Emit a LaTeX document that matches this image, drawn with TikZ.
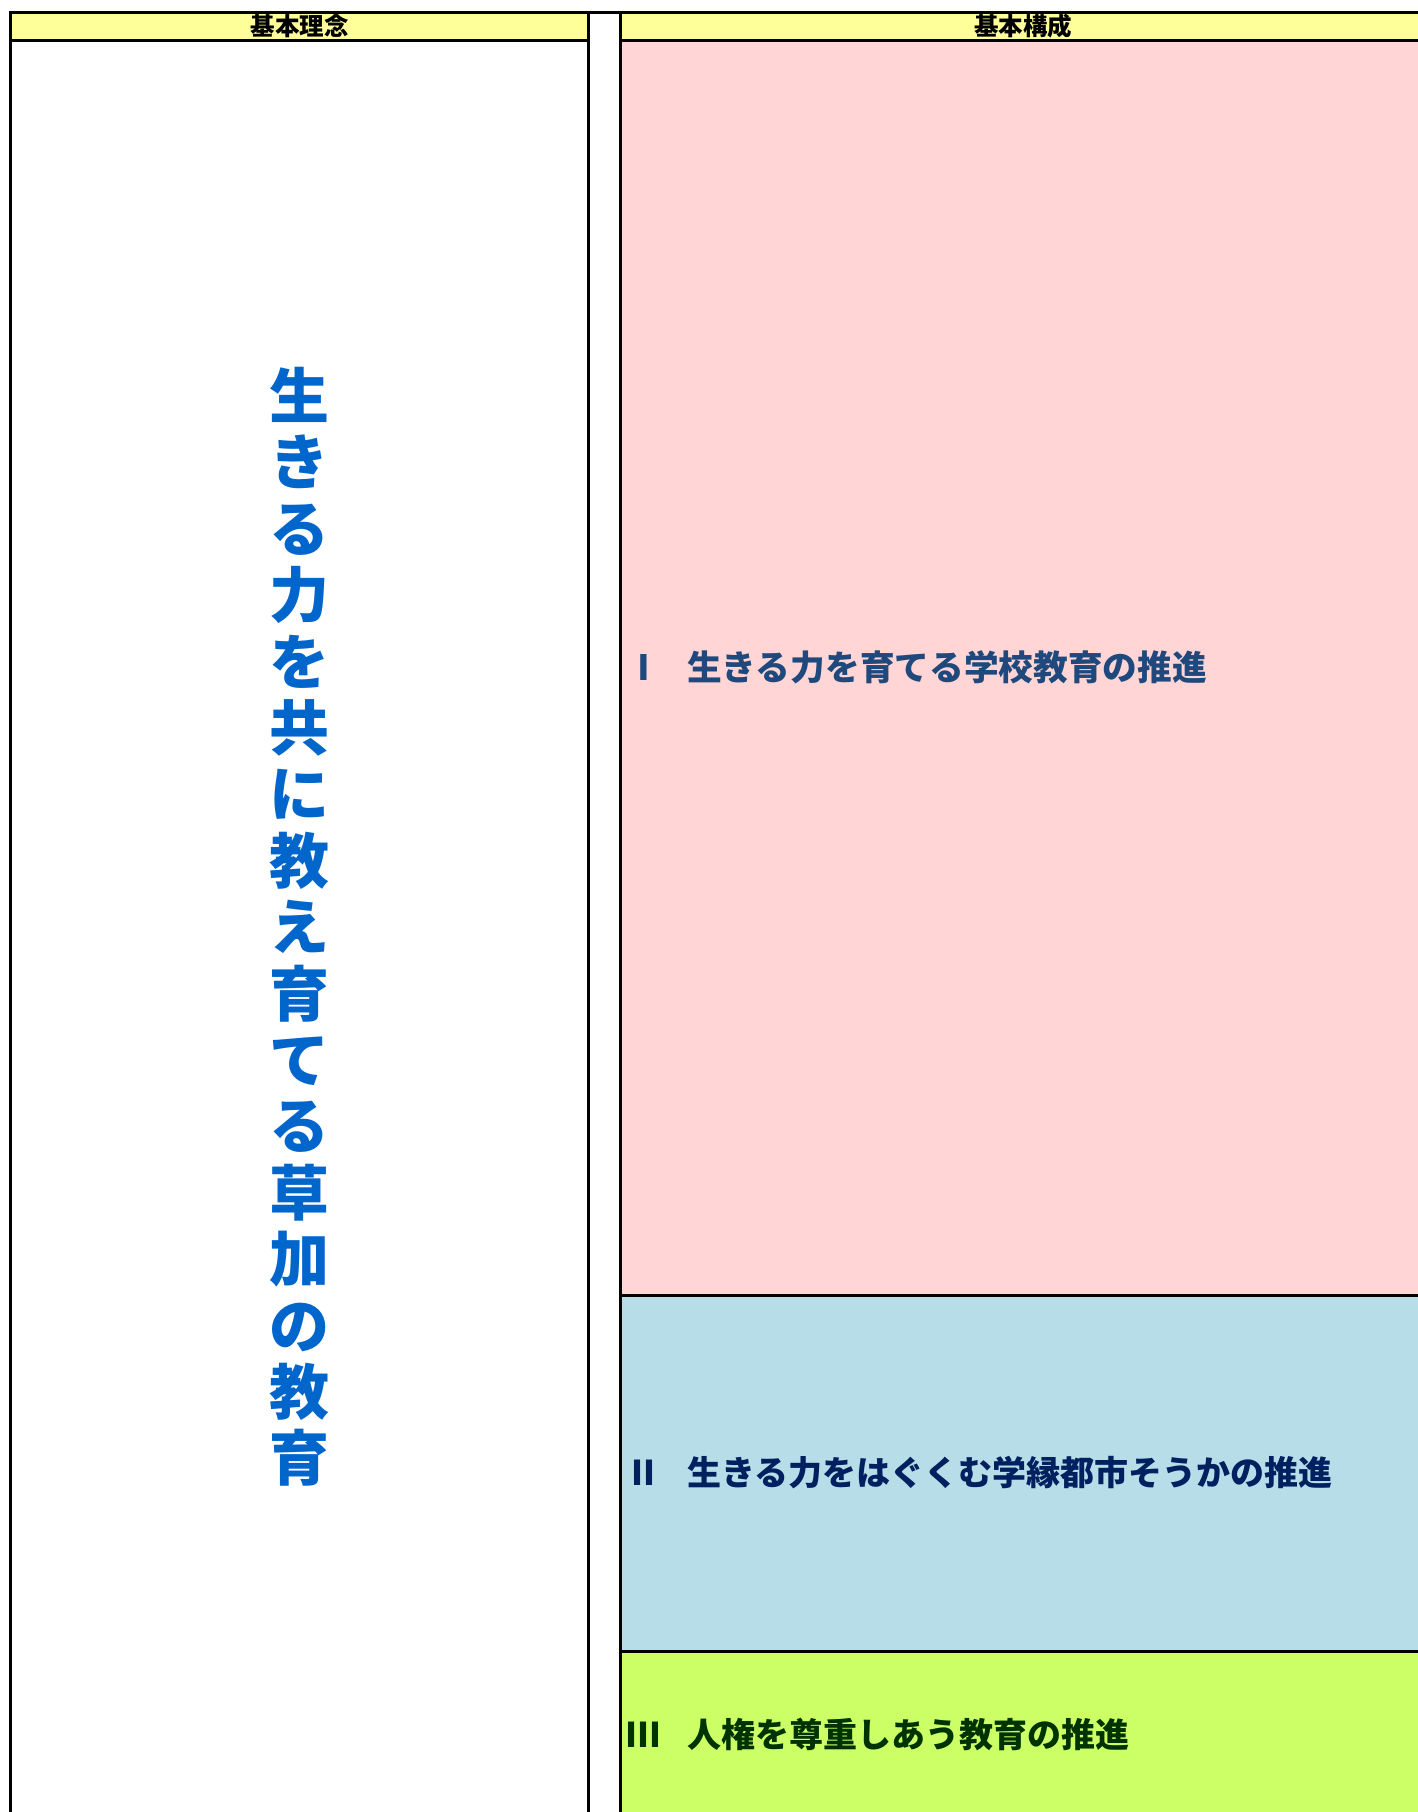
\documentclass[tikz,border=0pt]{standalone}
\usepackage{fontspec}
\newfontfamily\jp{Noto Sans CJK JP}
\definecolor{hdr}{HTML}{FFFF99}
\definecolor{pinkbg}{HTML}{FFD5D5}
\definecolor{bluebg}{HTML}{B7DEE8}
\definecolor{greenbg}{HTML}{CCFF66}
\definecolor{vblue}{HTML}{0066CC}
\definecolor{tone}{HTML}{1F497D}
\definecolor{ttwo}{HTML}{002060}
\definecolor{tthree}{HTML}{003300}
\begin{document}
\begin{tikzpicture}[x=1pt,y=-1pt,
  cell/.style={draw=black, line width=3pt, inner sep=0pt, outer sep=0pt, rectangle},
  hdrtext/.style={font=\jp\bfseries\fontsize{24.5}{24.5}\selectfont, text=black},
  rowtext/.style={anchor=base west, inner sep=0pt, font=\jp\bfseries\fontsize{34}{34}\selectfont}]
\path[use as bounding box] (0,0) rectangle (1418,1812);
\clip (0,0) rectangle (1418,1812);
\fill[white] (0,0) rectangle (1418,1812);
% left column
\node[cell, fill=white, minimum width=578pt, minimum height=1789.5pt] (lbody) at (299.5,935.25) {};
\node[cell, fill=hdr, minimum width=578pt, minimum height=28pt, hdrtext] (lhead) at (299.5,26.5) {基本理念};
% right column
\node[cell, fill=pinkbg, minimum width=809.5pt, minimum height=1255pt] (rone) at (1025.25,668) {};
\node[cell, fill=bluebg, minimum width=809.5pt, minimum height=356pt] (rtwo) at (1025.25,1473.5) {};
\node[cell, fill=greenbg, minimum width=809.5pt, minimum height=178.5pt] (rthree) at (1025.25,1740.75) {};
\node[cell, fill=hdr, minimum width=809.5pt, minimum height=28pt] (rhead) at (1025.25,26.5) {};
\node[hdrtext, inner sep=0pt] (rheadtxt) at (1023,26.5) {基本構成};
% top line across the gap
\draw[line width=3pt] (lhead.north east) -- (rhead.north west);
% vertical motto
\node[align=center, inner sep=0pt, text=vblue, font=\jp\bfseries\fontsize{60}{66.4}\selectfont] (motto) at (299.5,927)
  {生\\き\\る\\力\\を\\共\\に\\教\\え\\育\\て\\る\\草\\加\\の\\教\\育};
% row texts
\node[rowtext, text=tone, font=\jp\bfseries\fontsize{34.7}{34.7}\selectfont] (tI) at (621,680) {\makebox[45pt]{Ⅰ}\hspace{21pt}生きる力を育てる学校教育の推進};
\node[rowtext, text=ttwo] (tII) at (621,1485) {\makebox[45pt]{Ⅱ}\hspace{21pt}生きる力をはぐくむ学縁都市そうかの推進};
\node[rowtext, text=tthree] (tIII) at (621,1747) {\makebox[45pt]{Ⅲ}\hspace{21pt}人権を尊重しあう教育の推進};
\end{tikzpicture}
\end{document}
